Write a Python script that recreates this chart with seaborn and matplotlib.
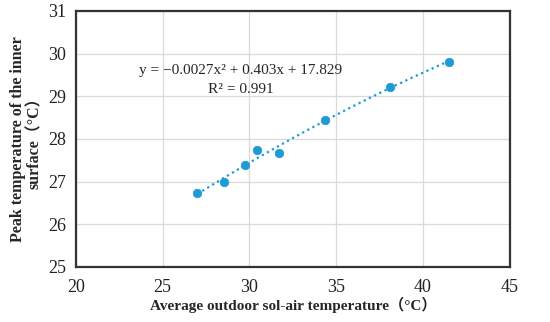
import numpy as np
import pandas as pd
import matplotlib
matplotlib.use('Agg')
import matplotlib.pyplot as plt
import seaborn as sns

# Values
sol_air_temp = [27.0, 28.54, 29.72, 30.41, 31.71, 34.34, 38.11, 41.47]
peak_inner_temp = [26.73, 27.00, 27.39, 27.74, 27.67, 28.44, 29.22, 29.81]
equation_text = 'y = −0.0027x² + 0.403x + 17.829'
r2_text = 'R² = 0.991'

df = pd.DataFrame({'x': sol_air_temp, 'y': peak_inner_temp})

sns.set_style('white')
plt.rcParams['font.family'] = ['Liberation Serif', 'Noto Sans CJK SC', 'DejaVu Sans']

fig = plt.figure(figsize=(5.5, 3.22), dpi=100)
ax = fig.add_axes([0.138, 0.171, 0.789, 0.795])

# 2nd order polynomial trend line fitted to the points
coef = np.polyfit(df['x'], df['y'], 2)
xs = np.linspace(df['x'].min(), df['x'].max(), 100)
trend = pd.DataFrame({'x': xs, 'y': np.polyval(coef, xs)})
sns.lineplot(data=trend, x='x', y='y', ax=ax, color='#1f9ad6',
             linestyle=(0, (1, 1.6)), linewidth=1.6)

sns.scatterplot(data=df, x='x', y='y', ax=ax, color='#1f9ad6', s=38,
                edgecolor='#1f9ad6', zorder=3)

ax.set_xlim(20, 45)
ax.set_ylim(25, 31)
ax.set_xticks(range(20, 46, 5))
ax.set_yticks(range(25, 32))
ax.grid(True, color='#d9d9d9', linewidth=0.9)
ax.set_axisbelow(True)
for sp in ax.spines.values():
    sp.set_color('#333333')
    sp.set_linewidth(1.6)
ax.tick_params(axis='both', labelsize=13, length=0, colors='#222222')
ax.tick_params(axis='x', pad=9)
ax.tick_params(axis='y', pad=7)

ax.set_xlabel('Average outdoor sol-air temperature（°C）', fontsize=11,
              fontweight='bold', labelpad=0)
ax.set_ylabel('Peak temperature of the inner\nsurface（°C）', fontsize=11.5,
              fontweight='bold', labelpad=4, linespacing=1.0)

ax.text(29.5, 29.6, equation_text, fontsize=11, ha='center', va='center')
ax.text(29.5, 29.15, r2_text, fontsize=11, ha='center', va='center')

fig.savefig('out.png', dpi=100)
